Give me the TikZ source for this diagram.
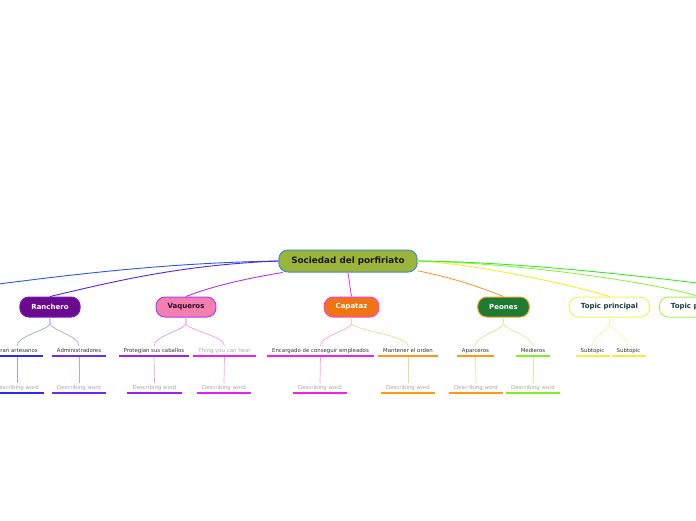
\documentclass[tikz,border=0pt]{standalone}
\usepackage{fontspec}
\setmainfont{DejaVu Sans}
\usepackage{tikz}
\usetikzlibrary{calc}
\definecolor{rootfill}{HTML}{9CB43A}
\definecolor{rootline}{HTML}{3D8FC8}
\definecolor{ranchfill}{HTML}{6A0A8E}
\definecolor{ranchline}{HTML}{7A1AB8}
\definecolor{vaqfill}{HTML}{F27FB0}
\definecolor{vaqline}{HTML}{B43CF0}
\definecolor{capfill}{HTML}{EE7512}
\definecolor{capline}{HTML}{FF3CE6}
\definecolor{peofill}{HTML}{1E7B30}
\definecolor{peoline}{HTML}{F5A030}
\definecolor{tpline}{HTML}{F2F25A}
\definecolor{tpbline}{HTML}{A6F25A}
\definecolor{tptext}{HTML}{1E3C3C}
\definecolor{vaqtext}{HTML}{2A0A2A}
\definecolor{cOff}{HTML}{2458F0}
\definecolor{cRanch}{HTML}{5424E6}
\definecolor{cVaq}{HTML}{B434F0}
\definecolor{cCap}{HTML}{E444F0}
\definecolor{cPeo}{HTML}{FF9C34}
\definecolor{cTp}{HTML}{F0F024}
\definecolor{cTpb}{HTML}{94F044}
\definecolor{cGreen}{HTML}{34F024}
\definecolor{cBlue}{HTML}{2A2AF0}
\definecolor{cIndigo}{HTML}{6A2AF0}
\definecolor{cViolet}{HTML}{A020F0}
\definecolor{cMagenta}{HTML}{E620F0}
\definecolor{cPink}{HTML}{F520E0}
\definecolor{cOrange}{HTML}{FF9A10}
\definecolor{cLime}{HTML}{80F020}
\definecolor{cYellow}{HTML}{F0F040}

\begin{document}
\begin{tikzpicture}[
  x=1pt, y=-1pt,
  root/.style={draw=rootline, fill=rootfill, line width=1pt, rounded corners=9pt,
               minimum height=22pt, inner xsep=12.5pt, text=black!90,
               font=\fontsize{8.8}{10}\selectfont\bfseries},
  topic/.style={line width=1pt, rounded corners=9pt, minimum height=20pt,
                inner xsep=11.5pt, font=\fontsize{7}{8}\selectfont\bfseries},
  sub/.style={anchor=south, inner xsep=5pt, inner ysep=2.3pt, text height=4pt,
              text depth=1.2pt, font=\fontsize{5.4}{6}\selectfont, text=black!80},
  word/.style={sub, text=black!35},
  ul/.style={line width=1.1pt},
  main/.style={line width=0.9pt},
  branch/.style={line width=0.7pt},
]
\useasboundingbox (0,0) rectangle (696,520);
\clip (0,0) rectangle (696,520);

\node[root]                                          (soc)   at (348,261)   {Sociedad del porfiriato};
\node[topic, draw=ranchline, fill=ranchfill, text=white]  (ranch) at (50,307)    {Ranchero};
\node[topic, draw=vaqline, fill=vaqfill, text=vaqtext]    (vaq)   at (186,307)   {Vaqueros};
\node[topic, draw=capline, fill=capfill, text=white]      (cap)   at (351.5,307) {Capataz};
\node[topic, draw=peoline, fill=peofill, text=white]      (peo)   at (503.5,307) {Peones};
\node[topic, draw=tpline, fill=white, text=tptext]        (tpa)   at (609.5,307) {Topic principal};
\node[topic, draw=tpbline, fill=white, text=tptext]       (tpb)   at (699.5,307) {Topic principal};
\coordinate (offL) at (-40,289);
\coordinate (offR) at (770,292);

\node[sub]  (gran)  at (17,356)    {Gran artesanos};
\node[sub]  (admin) at (79,356)    {Administradores};
\node[sub]  (prot)  at (154,356)   {Protegían sus caballos};
\node[word] (thing) at (224.5,356) {Thing you can hear};
\node[sub]  (enc)   at (320.5,356) {Encargado de conseguir empleados};
\node[sub]  (mant)  at (408,356)   {Mantener el orden};
\node[sub]  (apar)  at (475.5,356) {Aparceros};
\node[sub]  (medi)  at (533,356)   {Medieros};
\node[sub]  (suba)  at (592.5,356) {Subtopic};
\node[sub]  (subb)  at (628.5,356) {Subtopic};

\node[word] (granw)  at (17,393)    {Describing word};
\node[word] (adminw) at (79,393)    {Describing word};
\node[word] (protw)  at (154.5,393) {Describing word};
\node[word] (thingw) at (224,393)   {Describing word};
\node[word] (encw)   at (320,393)   {Describing word};
\node[word] (mantw)  at (408,393)   {Describing word};
\node[word] (aparw)  at (476,393)   {Describing word};
\node[word] (mediw)  at (533,393)   {Describing word};

\draw[main, cOff]   (soc.west) .. controls +(-120,2) and +(100,-13) .. (offL);
\draw[main, cRanch] (soc.west) .. controls +(-100,4) and +(60,-14) .. (ranch.north);
\draw[main, cVaq]   (soc.190) .. controls +(-25,4) and +(30,-12) .. (vaq.north);
\draw[main, cCap]   (soc.south) -- (cap.north);
\draw[main, cPeo]   (soc.352) .. controls +(30,6) and +(-30,-12) .. (peo.north);
\draw[main, cTp]    (soc.east) .. controls +(60,3) and +(-40,-12) .. (tpa.north);
\draw[main, cTpb]   (soc.east) .. controls +(100,2) and +(-50,-15) .. (tpb.north);
\draw[main, cGreen] (soc.east) .. controls +(120,1) and +(-80,-10) .. (offR);

\draw[branch, cBlue!45]    (ranch.south) -- ++(0,6) .. controls +(0,6) and +(0,-10) .. (gran.north);
\draw[branch, cIndigo!45]  (ranch.south) -- ++(0,6) .. controls +(0,6) and +(0,-10) .. (admin.north);
\draw[branch, cViolet!45]  (vaq.south) -- ++(0,6) .. controls +(0,6) and +(0,-10) .. (prot.north);
\draw[branch, cMagenta!45] (vaq.south) -- ++(0,6) .. controls +(0,6) and +(0,-10) .. (thing.north);
\draw[branch, cPink!45]    (cap.south) -- ++(0,6) .. controls +(0,6) and +(0,-10) .. (enc.north);
\draw[branch, cOrange!45]  (cap.south) -- ++(0,6) .. controls +(0,6) and +(0,-10) .. (mant.north);
\draw[branch, cOrange!45]  (peo.south) -- ++(0,6) .. controls +(0,6) and +(0,-10) .. (apar.north);
\draw[branch, cLime!45]    (peo.south) -- ++(0,6) .. controls +(0,6) and +(0,-10) .. (medi.north);
\draw[branch, cYellow!55]  (tpa.south) -- ++(0,6) .. controls +(0,6) and +(0,-10) .. (suba.north);
\draw[branch, cYellow!55]  (tpa.south) -- ++(0,6) .. controls +(0,6) and +(0,-10) .. (subb.north);

\draw[branch, cBlue!45]    (gran.south) -- (granw.north);
\draw[branch, cIndigo!45]  (admin.south) -- (adminw.north);
\draw[branch, cViolet!45]  (prot.south) -- (protw.north);
\draw[branch, cMagenta!45] (thing.south) -- (thingw.north);
\draw[branch, cPink!45]    (enc.south) -- (encw.north);
\draw[branch, cOrange!45]  (mant.south) -- (mantw.north);
\draw[branch, cOrange!45]  (apar.south) -- (aparw.north);
\draw[branch, cLime!45]    (medi.south) -- (mediw.north);

\draw[ul, cBlue]    (gran.south west) -- (gran.south east);
\draw[ul, cIndigo]  (admin.south west) -- (admin.south east);
\draw[ul, cViolet]  (prot.south west) -- (prot.south east);
\draw[ul, cMagenta] (thing.south west) -- (thing.south east);
\draw[ul, cPink]    (enc.south west) -- (enc.south east);
\draw[ul, cOrange]  (mant.south west) -- (mant.south east);
\draw[ul, cOrange]  (apar.south west) -- (apar.south east);
\draw[ul, cLime]    (medi.south west) -- (medi.south east);
\draw[ul, cYellow]  (suba.south west) -- (suba.south east);
\draw[ul, cYellow]  (subb.south west) -- (subb.south east);

\draw[ul, cBlue]    (granw.south west) -- (granw.south east);
\draw[ul, cIndigo]  (adminw.south west) -- (adminw.south east);
\draw[ul, cViolet]  (protw.south west) -- (protw.south east);
\draw[ul, cMagenta] (thingw.south west) -- (thingw.south east);
\draw[ul, cPink]    (encw.south west) -- (encw.south east);
\draw[ul, cOrange]  (mantw.south west) -- (mantw.south east);
\draw[ul, cOrange]  (aparw.south west) -- (aparw.south east);
\draw[ul, cLime]    (mediw.south west) -- (mediw.south east);
\end{tikzpicture}
\end{document}
